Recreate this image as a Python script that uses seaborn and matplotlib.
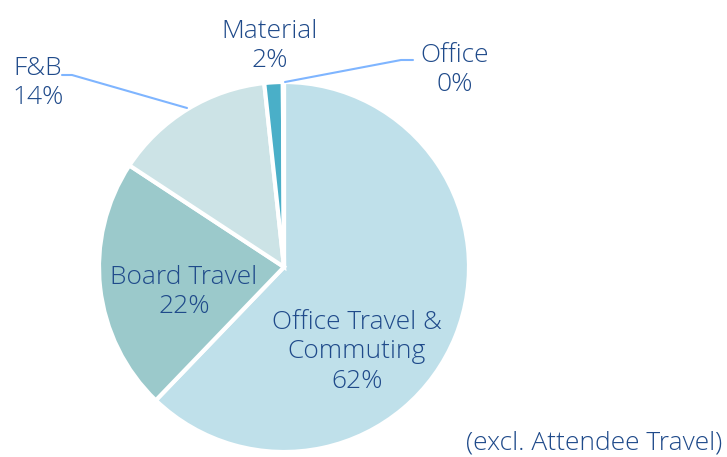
import matplotlib
matplotlib.use("Agg")
import matplotlib.pyplot as plt
import seaborn as sns

categories = ["Office Travel &\nCommuting", "Board Travel", "F&B", "Material", "Office"]
values = [62, 22, 14, 1.6, 0.1]
colors = ["#BFE0EA", "#9BC9CB", "#CCE3E6", "#4AAFC8", "#4AAFC8"]
note = "(excl. Attendee Travel)"

sns.set_theme(style="white")
plt.rcParams['font.family'] = ['Open Sans', 'DejaVu Sans']

W, H = 727, 457
fig = plt.figure(figsize=(W / 100, H / 100), dpi=100)
ax = fig.add_axes([0, 0, 1, 1])
cx, cy, r = 284, H - 267, 185
wedges, _ = ax.pie(values, colors=colors, startangle=90, counterclock=False,
                   radius=r, center=(cx, cy),
                   wedgeprops=dict(edgecolor="white", linewidth=3))
ax.set_xlim(0, W)
ax.set_ylim(0, H)
ax.set_aspect("equal")
ax.axis("off")

tc = "#1F4A8A"
lc = "#7FB5FF"
fs = 19
ls = 1.25
fw = 300

def lab(i):
    return f"{categories[i]}\n{round(values[i]):d}%"

kw = dict(ha="center", va="center", color=tc, fontsize=fs, linespacing=ls, fontweight=fw)
ax.text(357, H - 352, lab(0), **kw)
ax.text(184, H - 292, lab(1), **kw)
ax.text(38, H - 83, lab(2), **kw)
ax.text(270, H - 46, lab(3), **kw)
ax.text(455, H - 70, lab(4), **kw)

ax.plot([62, 72, 187], [H - 75, H - 75, H - 108], color=lc, lw=1.5)
ax.plot([285, 401, 413], [H - 82, H - 60, H - 60], color=lc, lw=1.5)

ax.text(722, H - 443, note, ha="right", va="center", color=tc, fontsize=fs, fontweight=fw)

fig.savefig("out.png", dpi=100)
